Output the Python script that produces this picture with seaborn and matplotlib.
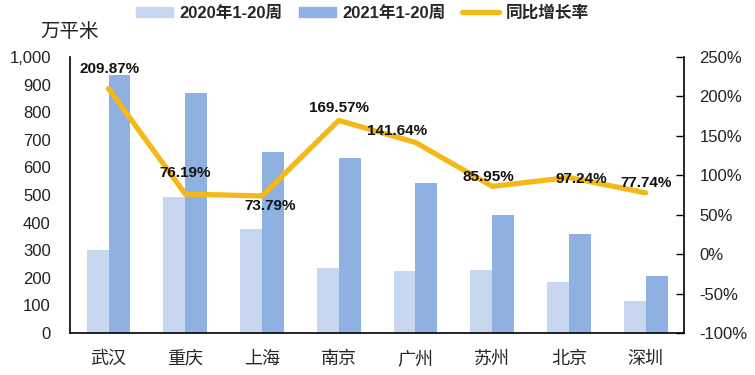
import numpy as np
import pandas as pd
import seaborn as sns
import matplotlib.pyplot as plt
from matplotlib.ticker import FuncFormatter, MultipleLocator
from matplotlib.patches import Patch
from matplotlib.lines import Line2D

# data
cities = ['武汉', '重庆', '上海', '南京', '广州', '苏州', '北京', '深圳']
area_2020 = [302, 494, 376, 235, 225, 229, 183, 117]
area_2021 = [935, 870, 654, 634, 545, 426, 360, 208]
growth = [209.87, 76.19, 73.79, 169.57, 141.64, 85.95, 97.24, 77.74]
series = ['2020年1-20周', '2021年1-20周', '同比增长率']

# label offsets (points) for the growth labels
label_dx = [1, 0, 6, 0, -13, -3, 9, 0]
label_dy = [14, 15, -7, 9, 8, 7, -1, 7]

sns.set_style('white')
plt.rcParams['font.family'] = ['Liberation Sans', 'Noto Sans CJK SC']
plt.rcParams['axes.unicode_minus'] = False

df = pd.DataFrame({
    'city': cities * 2,
    'area': area_2020 + area_2021,
    'period': [series[0]] * len(cities) + [series[1]] * len(cities),
})

c20 = '#C6D7EF'
c21 = '#8EB1E1'
cline = '#F4B919'

fig = plt.figure(figsize=(7.55, 3.75), dpi=100)
ax = fig.add_axes([0.093, 0.112, 0.813, 0.736])

sns.barplot(data=df, x='city', y='area', hue='period', order=cities,
            palette=[c20, c21], width=0.57, gap=0, saturation=1,
            edgecolor='none', ax=ax, legend=False)
ax.set_ylim(0, 1000)
ax.set_xlim(-0.5, len(cities) - 0.5)
ax.yaxis.set_major_locator(MultipleLocator(100))
ax.yaxis.set_major_formatter(FuncFormatter(lambda v, p: f'{v:,.0f}'))
ax.set_xlabel('')
ax.set_ylabel('')
ax.tick_params(axis='y', length=0, pad=14, labelsize=12, colors='#222222')
ax.set_xticks(np.arange(len(cities)))
ax.set_xticklabels(cities, fontsize=13)
ax.set_xticks(np.arange(len(cities) + 1) - 0.5, minor=True)
ax.tick_params(axis='x', which='major', length=0, pad=13)
ax.tick_params(axis='x', which='minor', direction='in', length=6, width=1, color='black')
for s in ['left', 'bottom']:
    ax.spines[s].set_color('black')
    ax.spines[s].set_linewidth(1.2)
ax.spines['top'].set_visible(False)
ax.spines['right'].set_visible(False)

ax2 = ax.twinx()
x = np.arange(len(cities))
sns.lineplot(x=x, y=growth, sort=False, color=cline, linewidth=3.8, ax=ax2)
ax2.set_ylim(-100, 250)
ax2.yaxis.set_major_locator(MultipleLocator(50))
ax2.yaxis.set_major_formatter(FuncFormatter(lambda v, p: f'{v:.0f}%'))
ax2.tick_params(axis='y', direction='in', length=6, width=1, pad=11,
                labelsize=12, colors='#222222')
ax2.tick_params(axis='y', color='black')
ax2.spines['right'].set_color('black')
ax2.spines['right'].set_linewidth(1.2)
for s in ['top', 'left', 'bottom']:
    ax2.spines[s].set_visible(False)

for i, g in enumerate(growth):
    ax2.annotate(f'{g:.2f}%', (x[i], g), xytext=(label_dx[i], label_dy[i]),
                 textcoords='offset points', ha='center', va='center',
                 fontsize=11, fontweight='bold', color='#111111')

fig.text(0.053, 0.915, '万平米', fontsize=14, family='Noto Sans CJK SC',
         color='#222222', va='center')

handles = [Patch(color=c20), Patch(color=c21),
           Line2D([0], [0], color=cline, linewidth=3.8)]
fig.legend(handles, series, loc='center', bbox_to_anchor=(0.48, 0.965), ncol=3,
           frameon=False, prop={'weight': 'bold', 'size': 12},
           handlelength=2.2, handleheight=0.6, handletextpad=0.4,
           columnspacing=1.0, borderaxespad=0)

fig.savefig('out.png', dpi=100)
